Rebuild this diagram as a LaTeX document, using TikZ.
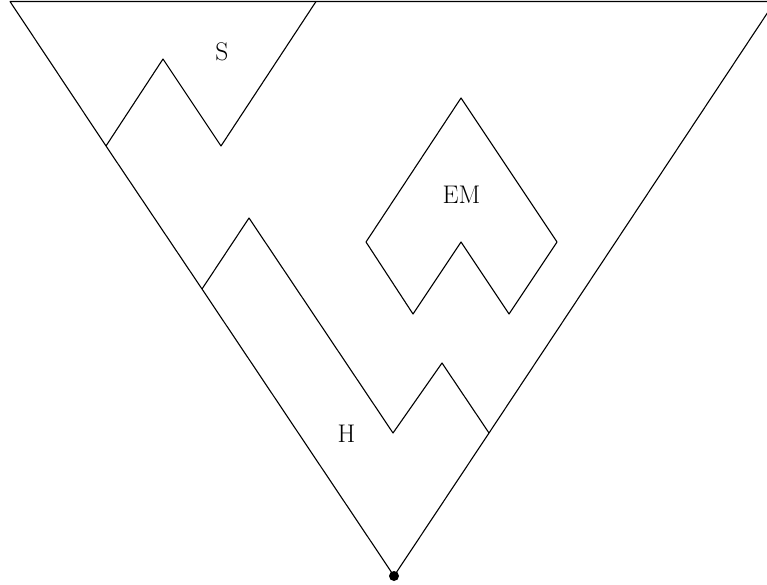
\documentclass[tikz,border=0pt]{standalone}
\begin{document}
\begin{tikzpicture}[x=1pt,y=-1pt,
  wall/.style={line width=1.1pt,line join=round},
  lbl/.style={font=\fontsize{25.5}{30}\selectfont,inner sep=0pt},
  root/.style={circle,fill=black,inner sep=0pt,minimum size=10pt}]
\useasboundingbox (0,0) rectangle (767,585);
\clip (0,0) rectangle (767,585);
% outer boundary
\coordinate (TL) at (10,1.5);
\coordinate (TR) at (775,1.5);
\coordinate (TX) at (790,1.5);
\coordinate (J1) at (106,146);
\coordinate (J2) at (202,289);
\coordinate (J3) at (489,433);
\node[root] (B) at (394,576) {};
% S branch
\coordinate (S1) at (163,59);
\coordinate (S2) at (221,146);
\coordinate (S3) at (316,1.5);
% H branch
\coordinate (H1) at (249,218);
\coordinate (H2) at (393,433);
\coordinate (H3) at (442,363);
% EM region
\coordinate (E1) at (461,98);
\coordinate (E2) at (557,242);
\coordinate (E3) at (509,314);
\coordinate (E4) at (461,242);
\coordinate (E5) at (413,314);
\coordinate (E6) at (366,242);

\draw[wall] (TX) -- (TL) -- (J1) -- (J2) -- (B.center) -- (J3) -- (TR);
\draw[wall] (J1) -- (S1) -- (S2) -- (S3);
\draw[wall] (J2) -- (H1) -- (H2) -- (H3) -- (J3);
\draw[wall] (E1) -- (E2) -- (E3) -- (E4) -- (E5) -- (E6) -- cycle;

\node[lbl] (S) at (222,52) {S};
\node[lbl] (EM) at (461.5,194.5) {EM};
\node[lbl] (H) at (346.5,433.5) {H};
\end{tikzpicture}
\end{document}
